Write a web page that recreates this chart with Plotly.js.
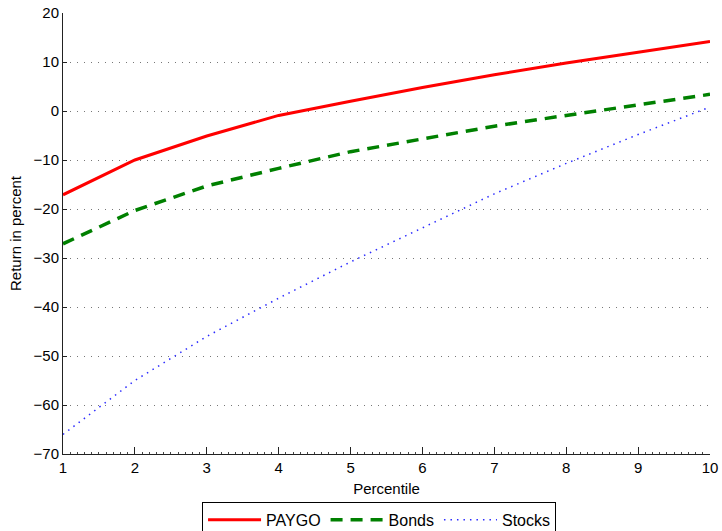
<!DOCTYPE html>
<html>
<head>
<meta charset="utf-8">
<script src="https://cdn.plot.ly/plotly-3.0.1.min.js"></script>
<style>html,body{margin:0;padding:0;background:#fff;}#chart{width:722px;height:531px;}</style>
</head>
<body>
<div id="chart"></div>
<script>
const percentile = [1, 2, 3, 4, 5, 6, 7, 8, 9, 10];
const paygo  = [-17.1, -10.0, -5.1, -0.9, 2.0, 4.8, 7.4, 9.8, 12.0, 14.2];
const bonds  = [-27.1, -20.3, -15.3, -11.7, -8.3, -5.7, -3.1, -0.9, 1.3, 3.4];
const stocks = [-66.0, -55.0, -46.0, -38.2, -30.8, -23.8, -16.9, -10.7, -4.8, 0.8];
const seriesNames = ["PAYGO", "Bonds", "Stocks"];

const traces = [
  {x: percentile, y: paygo, name: seriesNames[0], mode: "lines",
   line: {color: "#ff0000", width: 3}},
  {x: percentile, y: bonds, name: seriesNames[1], mode: "lines",
   line: {color: "#008000", width: 3.5, dash: "12px,8px"}},
  {x: percentile, y: stocks, name: seriesNames[2], mode: "lines",
   line: {color: "#2b2bff", width: 1.5, dash: "1.5px,5px"}}
];

const fam = "Liberation Sans, Arial, sans-serif";

const layout = {
  width: 722, height: 531,
  margin: {l: 63, r: 12, t: 13, b: 77},
  paper_bgcolor: "#fff", plot_bgcolor: "#fff",
  font: {family: fam, size: 15, color: "#000"},
  showlegend: true,
  legend: {
    orientation: "h", xref: "container", yref: "container",
    x: 0.525, xanchor: "center", y: 0.055, yanchor: "top",
    bordercolor: "#000", borderwidth: 1, bgcolor: "#fff",
    font: {family: fam, size: 16, color: "#000"},
    itemwidth: 53, traceorder: "normal"
  },
  xaxis: {
    range: [1, 10], dtick: 1, tick0: 1, automargin: false,
    showline: true, linecolor: "#222", linewidth: 1,
    ticks: "inside", ticklen: 7, tickcolor: "#222",
    minor: {dtick: 0.1, ticks: "inside", ticklen: 2, tickcolor: "#444", tickwidth: 1, showgrid: false},
    showgrid: false, zeroline: false,
    tickfont: {family: fam, size: 15, color: "#000"},
    title: {text: "Percentile", font: {family: fam, size: 15, color: "#000"}, standoff: 8}
  },
  yaxis: {
    range: [-70, 20], dtick: 10, automargin: false,
    showline: true, linecolor: "#222", linewidth: 1,
    ticks: "inside", ticklen: 4, tickcolor: "#222",
    showgrid: true, gridcolor: "#777", griddash: "1px,6px", gridwidth: 1,
    zeroline: false,
    tickfont: {family: fam, size: 15, color: "#000"},
    title: {text: "Return in percent", font: {family: fam, size: 15, color: "#000"}, standoff: 8}
  }
};

Plotly.newPlot("chart", traces, layout, {staticPlot: true, displayModeBar: false});
</script>
</body>
</html>
